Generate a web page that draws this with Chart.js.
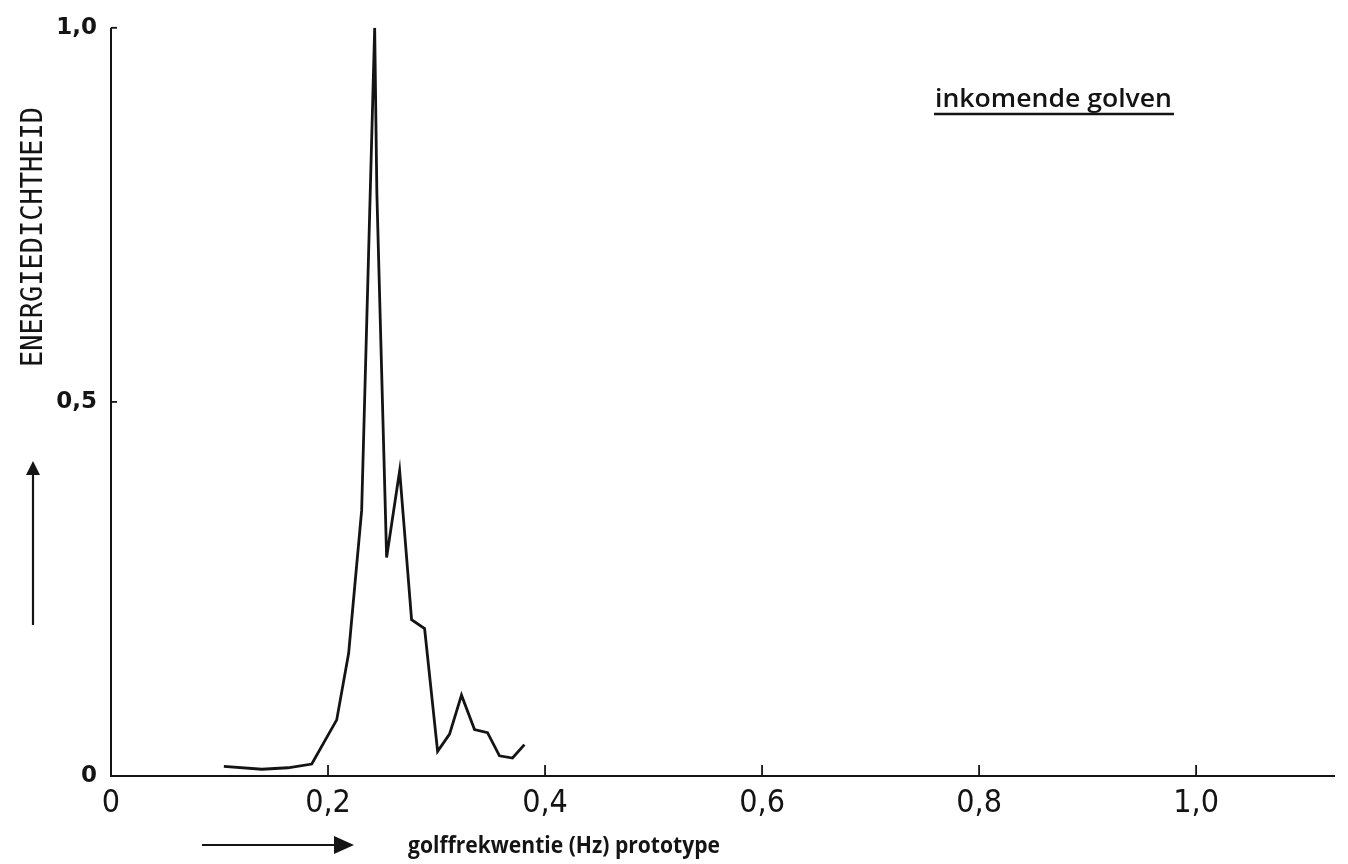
<!DOCTYPE html>
<html>
<head>
<meta charset="utf-8">
<script src="https://cdn.jsdelivr.net/npm/chart.js@4.4.1/dist/chart.umd.min.js"></script>
<style>
  html, body { margin: 0; background: #fff; }
  canvas { display: block; }
</style>
</head>
<body>
<canvas id="chart" width="1348" height="864"></canvas>
<script>
// --- Data ---
const freq   = [0.104, 0.139, 0.163, 0.185, 0.208, 0.219, 0.231, 0.243, 0.245, 0.254, 0.266,
                0.277, 0.289, 0.301, 0.312, 0.323, 0.335, 0.347, 0.358, 0.370, 0.381];
const energy = [0.013, 0.009, 0.011, 0.016, 0.075, 0.164, 0.355, 1.000, 0.780, 0.292, 0.408,
                0.209, 0.197, 0.033, 0.056, 0.108, 0.062, 0.058, 0.027, 0.024, 0.042];

const xTicks = [0, 0.2, 0.4, 0.6, 0.8, 1.0];
const xTickLabels = ['0', '0,2', '0,4', '0,6', '0,8', '1,0'];
const yTicks = [0, 0.5, 1.0];
const yTickLabels = ['0', '0,5', '1,0'];

const yTitle = 'ENERGIEDICHTHEID';
const xTitle = 'golffrekwentie (Hz) prototype';
const caption = 'inkomende golven';

const INK = '#141414';

// text drawn to a given width (the original is hand lettered)
function fitText(ctx, text, x, y, width, font) {
    ctx.save();
    ctx.font = font;
    const w = ctx.measureText(text).width;
    ctx.translate(x, y);
    ctx.scale(width / w, 1);
    ctx.fillText(text, 0, 0);
    ctx.restore();
}

const decorations = {
    id: 'decorations',
    afterDraw(chart) {
        const ctx = chart.ctx;
        const { left, right, top, bottom } = chart.chartArea;
        const xs = chart.scales.x, ys = chart.scales.y;
        ctx.save();
        ctx.strokeStyle = INK;
        ctx.fillStyle = INK;
        ctx.lineCap = 'butt';

        // axes
        ctx.lineWidth = 2;
        ctx.beginPath();
        ctx.moveTo(left, top);
        ctx.lineTo(left, bottom);
        ctx.lineTo(right, bottom);
        ctx.stroke();

        // inner tick marks
        ctx.lineWidth = 1.8;
        xTicks.forEach(v => {
            if (v === 0) return;
            const px = xs.getPixelForValue(v);
            ctx.beginPath();
            ctx.moveTo(px, bottom);
            ctx.lineTo(px, bottom - 11);
            ctx.stroke();
        });
        yTicks.forEach(v => {
            if (v === 0) return;
            const py = ys.getPixelForValue(v);
            ctx.beginPath();
            ctx.moveTo(left, py);
            ctx.lineTo(left + 6, py);
            ctx.stroke();
        });

        // y title, rotated
        ctx.save();
        ctx.translate(42, 367);
        ctx.rotate(-Math.PI / 2);
        ctx.textBaseline = 'alphabetic';
        fitText(ctx, yTitle, 0, 0, 260, '30px "DejaVu Sans Mono"');
        ctx.restore();

        // up arrow
        ctx.lineWidth = 2.2;
        ctx.beginPath();
        ctx.moveTo(33, 625);
        ctx.lineTo(33, 472);
        ctx.stroke();
        ctx.beginPath();
        ctx.moveTo(33, 461);
        ctx.lineTo(26, 475);
        ctx.lineTo(40, 475);
        ctx.closePath();
        ctx.fill();

        // right arrow + x title
        ctx.beginPath();
        ctx.moveTo(202, 845);
        ctx.lineTo(338, 845);
        ctx.stroke();
        ctx.beginPath();
        ctx.moveTo(354, 845);
        ctx.lineTo(334, 836);
        ctx.lineTo(334, 854);
        ctx.closePath();
        ctx.fill();
        ctx.textBaseline = 'alphabetic';
        fitText(ctx, xTitle, 408, 853, 312, 'bold 23px "Open Sans"');

        // caption with underline
        fitText(ctx, caption, 935, 107, 237, '600 26px "Open Sans"');
        ctx.lineWidth = 2.5;
        ctx.beginPath();
        ctx.moveTo(934, 114);
        ctx.lineTo(1174, 114);
        ctx.stroke();

        ctx.restore();
    }
};

new Chart(document.getElementById('chart'), {
    type: 'line',
    data: {
        datasets: [{
            data: freq.map((f, i) => ({ x: f, y: energy[i] })),
            borderColor: INK,
            borderWidth: 2.8,
            pointRadius: 0,
            tension: 0,
            fill: false
        }]
    },
    options: {
        responsive: false,
        animation: false,
        events: [],
        layout: { padding: { top: 25, right: 13, bottom: 0, left: 0 } },
        plugins: { legend: { display: false }, tooltip: { enabled: false } },
        scales: {
            x: {
                type: 'linear',
                min: 0,
                max: 1.128,
                afterBuildTicks: s => { s.ticks = xTicks.map(v => ({ value: v })); },
                afterFit: s => { s.height = 88; },
                grid: { display: false, drawTicks: false },
                border: { display: false },
                ticks: {
                    callback: (v, i) => xTickLabels[i],
                    autoSkip: false,
                    maxRotation: 0,
                    padding: 8,
                    color: INK,
                    font: { family: '"Liberation Sans Narrow", "DejaVu Sans Condensed", sans-serif', size: 32 }
                }
            },
            y: {
                type: 'linear',
                min: 0,
                max: 1,
                afterBuildTicks: s => { s.ticks = yTicks.map(v => ({ value: v })); },
                afterFit: s => { s.width = 111; },
                grid: { display: false, drawTicks: false },
                border: { display: false },
                ticks: {
                    callback: (v, i) => yTickLabels[i],
                    padding: 14,
                    color: INK,
                    font: { family: '"DejaVu Sans"', size: 23, weight: 'bold' }
                }
            }
        }
    },
    plugins: [decorations]
});
</script>
</body>
</html>
